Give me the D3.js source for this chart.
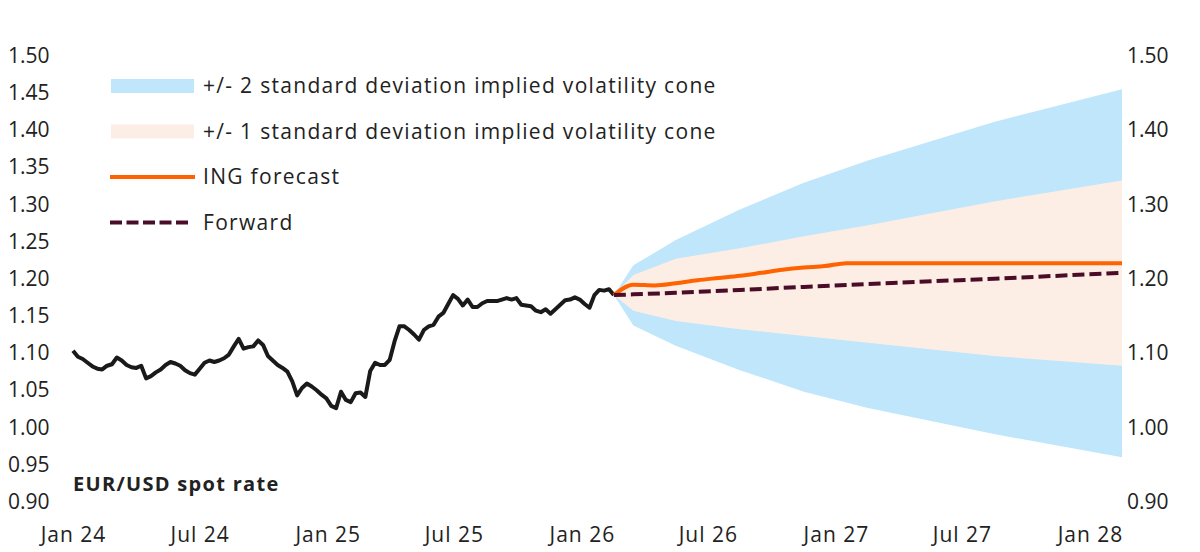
<!DOCTYPE html>
<html>
<head>
<meta charset="utf-8">
<script src="https://cdn.jsdelivr.net/npm/d3@7"></script>
<style>
  body { margin: 0; background: #fff; }
  svg text { font-family: "Open Sans", Lato, sans-serif; fill: #222; }
</style>
</head>
<body>
<div id="chart"></div>
<script>
// weekly EUR/USD spot, first value at spotStart
const spotStart = "2024-01-01";
const spotRate = [
  1.102, 1.094, 1.091, 1.086, 1.081, 1.078, 1.077, 1.082, 1.084, 1.093,
  1.089, 1.083, 1.080, 1.079, 1.082, 1.065, 1.068, 1.073, 1.077, 1.083,
  1.087, 1.085, 1.082, 1.076, 1.072, 1.070, 1.078, 1.086, 1.089, 1.087,
  1.089, 1.092, 1.097, 1.108, 1.118, 1.105, 1.107, 1.108, 1.116, 1.110,
  1.095, 1.089, 1.083, 1.079, 1.074, 1.061, 1.042, 1.052, 1.058, 1.054,
  1.049, 1.043, 1.038, 1.028, 1.025, 1.047, 1.036, 1.033, 1.045, 1.046,
  1.040, 1.075, 1.086, 1.083, 1.083, 1.090, 1.115, 1.135, 1.135, 1.130,
  1.124, 1.117, 1.130, 1.135, 1.137, 1.148, 1.153, 1.165, 1.177, 1.172,
  1.163, 1.171, 1.161, 1.161, 1.166, 1.169, 1.169, 1.169, 1.171, 1.173,
  1.171, 1.173, 1.164, 1.163, 1.162, 1.156, 1.154, 1.158, 1.152, 1.158,
  1.164, 1.170, 1.171, 1.174, 1.171, 1.165, 1.160, 1.177, 1.184, 1.183,
  1.185, 1.177
];

// implied volatility cone, by tenor (spot, 1M, 3M, 6M, 9M, 1Y, 18M, 2Y)
const coneDates = ["2026-02-16", "2026-03-16", "2026-05-16", "2026-08-16", "2026-11-16", "2027-02-16", "2027-08-16", "2028-02-16"];
const upper2sd = [1.177, 1.217, 1.251, 1.292, 1.328, 1.358, 1.410, 1.454];
const upper1sd = [1.177, 1.204, 1.226, 1.240, 1.256, 1.271, 1.303, 1.331];
const lower1sd = [1.177, 1.156, 1.142, 1.131, 1.122, 1.113, 1.095, 1.082];
const lower2sd = [1.177, 1.136, 1.109, 1.076, 1.047, 1.025, 0.990, 0.959];
const forwardRate = [1.177, 1.178, 1.180, 1.184, 1.188, 1.192, 1.199, 1.207];

const forecastDates = ["2026-02-16", "2026-03-16", "2026-04-16", "2026-05-16", "2026-06-16", "2026-07-16", "2026-08-16",
  "2026-09-16", "2026-10-16", "2026-11-16", "2026-12-16", "2027-01-16", "2027-06-16", "2027-12-16", "2028-02-16"];
const ingForecast = [1.177, 1.191, 1.190, 1.193, 1.197, 1.200, 1.203, 1.207, 1.211, 1.214, 1.216, 1.220, 1.220, 1.220, 1.220];

const leftTicks = [0.90, 0.95, 1.00, 1.05, 1.10, 1.15, 1.20, 1.25, 1.30, 1.35, 1.40, 1.45, 1.50];
const rightTicks = [0.90, 1.00, 1.10, 1.20, 1.30, 1.40, 1.50];
const legendLabels = [
  "+/- 2 standard deviation implied volatility cone",
  "+/- 1 standard deviation implied volatility cone",
  "ING forecast",
  "Forward"
];
const seriesTitle = "EUR/USD spot rate";

const W = 1200, H = 552;
const colors = { band2: "#bfe6fb", band1: "#fdeee5", spot: "#1a1a1a", ing: "#ff6200", fwd: "#4a0c27" };

const parse = d3.utcParse("%Y-%m-%d");
const x = d3.scaleUtc()
  .domain([parse("2024-01-01"), parse("2028-01-01")])
  .range([73, 1090]);
const y = d3.scaleLinear().domain([0.90, 1.50]).range([501, 55]);

const svg = d3.select("#chart").append("svg")
  .attr("width", W).attr("height", H);

// cone data
const cone = coneDates.map((d, i) => ({
  date: parse(d), u2: upper2sd[i], u1: upper1sd[i], l1: lower1sd[i], l2: lower2sd[i], fwd: forwardRate[i]
}));

svg.append("path").datum(cone)
  .attr("fill", colors.band2)
  .attr("d", d3.area().x(d => x(d.date)).y0(d => y(d.l2)).y1(d => y(d.u2)));
svg.append("path").datum(cone)
  .attr("fill", colors.band1)
  .attr("d", d3.area().x(d => x(d.date)).y0(d => y(d.l1)).y1(d => y(d.u1)));

// spot line
const t0 = parse(spotStart);
const spot = spotRate.map((v, i) => ({ date: d3.utcDay.offset(t0, 7 * i), v }));
svg.append("path").datum(spot)
  .attr("fill", "none").attr("stroke", colors.spot)
  .attr("stroke-width", 4).attr("stroke-linejoin", "round")
  .attr("d", d3.line().x(d => x(d.date)).y(d => y(d.v)));

// ING forecast
const ing = forecastDates.map((d, i) => ({ date: parse(d), v: ingForecast[i] }));
svg.append("path").datum(ing)
  .attr("fill", "none").attr("stroke", colors.ing)
  .attr("stroke-width", 4).attr("stroke-linejoin", "round")
  .attr("d", d3.line().curve(d3.curveMonotoneX).x(d => x(d.date)).y(d => y(d.v)));

// forward
svg.append("path").datum(cone)
  .attr("fill", "none").attr("stroke", colors.fwd)
  .attr("stroke-width", 4).attr("stroke-dasharray", "12,5")
  .attr("d", d3.line().x(d => x(d.date)).y(d => y(d.fwd)));

// axes (labels only, no lines)
const fmt = d3.format(".2f");
const yl = svg.append("g").attr("transform", "translate(8,0)")
  .call(d3.axisLeft(y).tickValues(leftTicks).tickFormat(fmt).tickSize(0).tickPadding(0));
yl.select(".domain").remove();
yl.selectAll("text").attr("text-anchor", "start").attr("dy", "0.35em")
  .style("font-size", "21px").style("font-family", null).attr("fill", "#222");

const yr = svg.append("g").attr("transform", "translate(1127,0)")
  .call(d3.axisRight(y).tickValues(rightTicks).tickFormat(fmt).tickSize(0).tickPadding(0));
yr.select(".domain").remove();
yr.selectAll("text").attr("dy", "0.35em")
  .style("font-size", "21px").style("font-family", null).attr("fill", "#222");

const xa = svg.append("g").attr("transform", "translate(0,527)")
  .call(d3.axisBottom(x).ticks(d3.utcMonth.every(6)).tickFormat(d3.utcFormat("%b %y")).tickSize(0).tickPadding(0));
xa.select(".domain").remove();
xa.selectAll("text").attr("dy", "0.71em")
  .style("font-size", "21px").style("letter-spacing", "1px").style("font-family", null).attr("fill", "#222");

// series title
svg.append("text").attr("x", 73).attr("y", 484).attr("dy", "0.35em")
  .style("font-size", "20px").style("font-weight", "bold").style("letter-spacing", "1.3px")
  .text(seriesTitle);

// legend
const lg = svg.append("g");
const rowY = d => 86 + d * 45.5;
lg.append("rect").attr("x", 111).attr("y", rowY(0) - 7).attr("width", 83).attr("height", 14).attr("fill", colors.band2);
lg.append("rect").attr("x", 111).attr("y", rowY(1) - 7).attr("width", 83).attr("height", 14).attr("fill", colors.band1);
lg.append("line").attr("x1", 110).attr("x2", 195).attr("y1", rowY(2)).attr("y2", rowY(2))
  .attr("stroke", colors.ing).attr("stroke-width", 4);
lg.append("line").attr("x1", 110).attr("x2", 191).attr("y1", rowY(3)).attr("y2", rowY(3))
  .attr("stroke", colors.fwd).attr("stroke-width", 4).attr("stroke-dasharray", "12,4.5");
lg.selectAll("text.lab").data(legendLabels).join("text")
  .attr("class", "lab")
  .attr("x", 203).attr("y", (d, i) => rowY(i)).attr("dy", "0.35em")
  .style("font-size", "21px").style("letter-spacing", "1.3px")
  .text(d => d);
</script>
</body>
</html>
